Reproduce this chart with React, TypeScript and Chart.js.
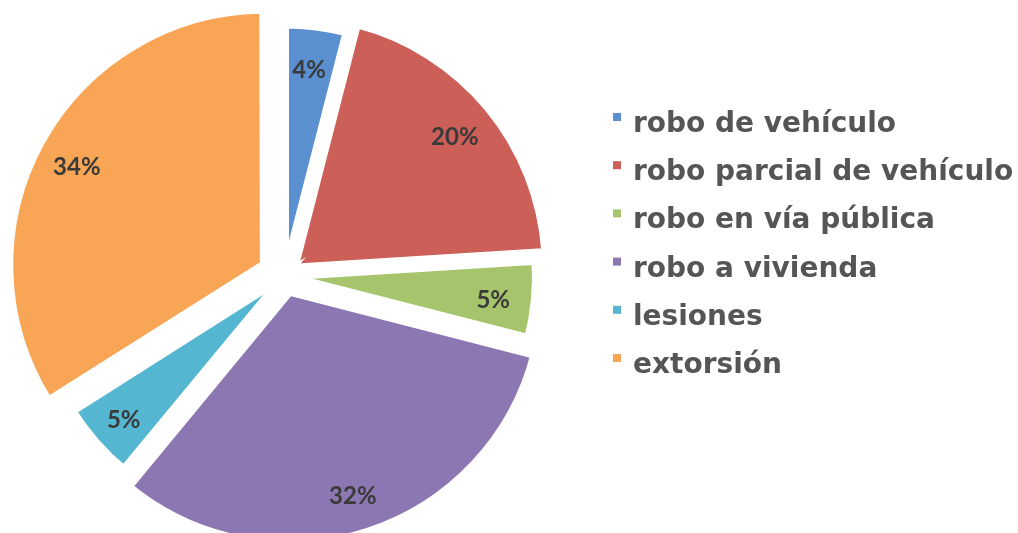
import React, { useEffect, useRef } from "react";
import { Chart, registerables } from "chart.js";

Chart.register(...registerables);

const categories = [
  "robo de vehículo",
  "robo parcial de vehículo",
  "robo en vía pública",
  "robo a vivienda",
  "lesiones",
  "extorsión",
];
const percentValues = [4, 20, 5, 32, 5, 34];

const sliceColors = ["#5A8FD0", "#CC5F57", "#A6C46B", "#8D77B2", "#54B6D1", "#F8A556"];
// outward shift of each slice, in pixels
const sliceShift = [0, 12, 0, 16, 0, 23];

const valueLabelPlugin = {
  id: "valueLabels",
  afterDatasetsDraw(chart: any) {
    const ctx = chart.ctx;
    const meta = chart.getDatasetMeta(0);
    ctx.save();
    ctx.font = "bold 24px Lato";
    ctx.fillStyle = "#3a3a3a";
    ctx.textAlign = "center";
    ctx.textBaseline = "middle";
    meta.data.forEach((el: any, i: number) => {
      const { x, y, startAngle, endAngle, outerRadius } = el.getProps(
        ["x", "y", "startAngle", "endAngle", "outerRadius"],
        true
      );
      const mid = (startAngle + endAngle) / 2;
      const off = (el.options.offset || 0) / 4;
      const d = off + outerRadius * 0.84;
      ctx.fillText(
        percentValues[i] + "%",
        x + Math.cos(mid) * d - 2,
        y + Math.sin(mid) * d + 4
      );
    });
    ctx.restore();
  },
};

const legendPlugin = {
  id: "sideLegend",
  afterDraw(chart: any) {
    const ctx = chart.ctx;
    const labels = chart.data.labels as string[];
    const colors = chart.data.datasets[0].backgroundColor as string[];
    ctx.save();
    ctx.font = "bold 28px 'DejaVu Sans'";
    ctx.textAlign = "left";
    ctx.textBaseline = "alphabetic";
    const startBase = 132;
    const step = 48.2;
    labels.forEach((lab, i) => {
      const base = startBase + i * step;
      ctx.fillStyle = colors[i];
      ctx.fillRect(613, base - 19, 8, 8);
      ctx.fillStyle = "#555555";
      ctx.fillText(lab, 633, base);
    });
    ctx.restore();
  },
};

export default function App() {
  const canvasRef = useRef<HTMLCanvasElement | null>(null);

  useEffect(() => {
    document.body.style.margin = "0";
    const canvas = canvasRef.current;
    if (!canvas) return;
    const chart = new Chart(canvas, {
      type: "pie",
      data: {
        labels: categories,
        datasets: [
          {
            data: percentValues,
            backgroundColor: sliceColors,
            borderColor: "#ffffff",
            borderWidth: 9,
            borderJoinStyle: "miter",
            offset: sliceShift.map((s) => s * 4),
            hoverOffset: 0,
            radius: 252,
          } as any,
        ],
      },
      options: {
        responsive: false,
        animation: false,
        layout: { padding: { left: 0, top: 19, right: 449, bottom: 0 } },
        plugins: {
          legend: { display: false },
          tooltip: { enabled: false },
        },
      },
      plugins: [valueLabelPlugin, legendPlugin],
    });
    return () => chart.destroy();
  }, []);

  return (
    <div style={{ width: 1018, height: 533, background: "#ffffff" }}>
      <canvas ref={canvasRef} width={1018} height={533} />
    </div>
  );
}
